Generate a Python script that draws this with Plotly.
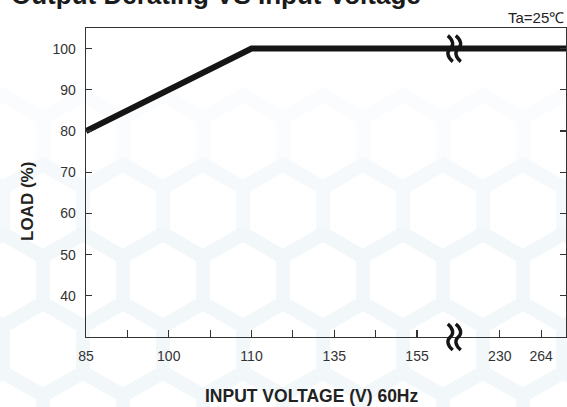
import numpy as np
import plotly.graph_objects as go

# ---------------- data ----------------
curve_volts = [85, 110, 264]
curve_load = [80, 100, 100]

tick_volts = [85, 100, 110, 135, 155, 230, 264]
tick_labels = ["85", "100", "110", "135", "155", "230", "264"]
tick_slots = [0, 2, 4, 6, 8, 10, 11]          # broken (non-linear) axis slots
minor_slots = [1, 3, 5, 7]
y_ticks = [40, 50, 60, 70, 80, 90, 100]
break_slot = 8.9
x_range = [0, 11.6]
y_range = [30, 105]

# ---------------- geometry ----------------
W, H = 567, 407
ML, MR, MT, MB = 86, 1, 28, 70
PW, PH = W - ML - MR, H - MT - MB

def px2paper(px, py):
    return (px - ML) / PW, (H - MB - py) / PH

xs = list(np.interp(curve_volts, tick_volts, tick_slots)) + [x_range[1] + 0.5]
ys = curve_load + [curve_load[-1]]

fig = go.Figure()
fig.add_trace(go.Scatter(x=xs, y=ys, mode="lines",
                         line=dict(color="#151515", width=6),
                         hoverinfo="skip", showlegend=False))

# --------- faint hexagon watermark ---------
def hex_path(rows, color, width):
    R = 80 / np.sqrt(3)
    parts = []
    for cy, off in rows:
        for k in range(-1, 9):
            cx = off + 80 * k
            pts = []
            for a in [90, 30, -30, -90, -150, 150]:
                r = np.radians(a)
                X, Y = px2paper(cx + R * np.cos(r), cy - R * np.sin(r))
                pts.append(f"{X:.4f},{Y:.4f}")
            parts.append("M " + " L ".join(pts) + " Z")
    return dict(type="path", xref="paper", yref="paper", path=" ".join(parts),
                line=dict(color=color, width=width), layer="below")

shapes = [
    hex_path([(141.4, 3)], "#fafcfd", 14),
    hex_path([(210.7, 43)], "#f6f9fc", 14),
    hex_path([(280, 3), (349.3, 43), (418.6, 3)], "#f2f7fa", 14),
]

# --------- axis break squiggles ---------
def squiggle(dx):
    return (f"M {dx-2.5},13 C {dx+3.5},8 {dx+3.5},3 {dx},0 "
            f"C {dx-3.5},-3 {dx-3.5},-8 {dx+2.5},-13")

for yref, yanc in [("y", 100), ("paper", 0)]:
    for dx in (-4, 4):
        shapes.append(dict(type="path", xref="x", yref=yref,
                           xsizemode="pixel", ysizemode="pixel",
                           xanchor=break_slot, yanchor=yanc,
                           path=squiggle(dx), layer="above",
                           line=dict(color="#151515", width=3.4)))

tick_font = dict(family="Liberation Sans, Arial, sans-serif", size=14, color="#333333")

all_slots = sorted(tick_slots + minor_slots)
all_text = [tick_labels[tick_slots.index(s)] if s in tick_slots else "" for s in all_slots]

fig.update_xaxes(range=x_range, tickmode="array", tickvals=all_slots, ticktext=all_text,
                 ticks="inside", ticklen=7, tickwidth=1.2, tickcolor="#333333",
                 showline=True, linecolor="#333333", linewidth=1.3, mirror=True,
                 showgrid=False, zeroline=False, tickfont=tick_font,
                 ticklabelstandoff=6)
fig.update_yaxes(range=y_range, tickmode="array", tickvals=y_ticks,
                 ticks="inside", ticklen=6, tickwidth=1.2, tickcolor="#333333",
                 showline=True, linecolor="#333333", linewidth=1.3, mirror="ticks",
                 showgrid=False, zeroline=False, tickfont=tick_font,
                 ticklabelstandoff=6)

ann = []
tx, ty = px2paper(9, 12)
ann.append(dict(text="<b>Output Derating VS Input Voltage</b>", x=tx, y=ty,
                xref="paper", yref="paper", xanchor="left", yanchor="bottom",
                showarrow=False,
                font=dict(family="Liberation Sans, Arial, sans-serif", size=26, color="#1a1a1a")))
tx, ty = px2paper(566, 17)
ann.append(dict(text="Ta=25℃", x=tx, y=ty, xref="paper", yref="paper",
                xanchor="right", yanchor="middle", showarrow=False,
                font=dict(family="Liberation Sans Narrow, Liberation Sans, Arial, sans-serif",
                          size=15, color="#222222")))
tx, ty = px2paper(312, 396)
ann.append(dict(text="<b>INPUT VOLTAGE (V) 60Hz</b>", x=tx, y=ty, xref="paper", yref="paper",
                xanchor="center", yanchor="middle", showarrow=False,
                font=dict(family="Liberation Sans, Arial, sans-serif", size=17.5, color="#222222")))
tx, ty = px2paper(27, 202)
ann.append(dict(text="<b>LOAD (%)</b>", x=tx, y=ty, xref="paper", yref="paper",
                xanchor="center", yanchor="middle", showarrow=False, textangle=-90,
                font=dict(family="Liberation Sans, Arial, sans-serif", size=17, color="#222222")))

fig.update_layout(width=W, height=H, autosize=False,
                  margin=dict(l=ML, r=MR, t=MT, b=MB, pad=0),
                  paper_bgcolor="white", plot_bgcolor="rgba(0,0,0,0)",
                  shapes=shapes, annotations=ann, showlegend=False)

fig.write_html("out.html", config={"displayModeBar": False, "staticPlot": True},
               post_script="document.body.style.margin='0';document.body.style.overflow='hidden';")
